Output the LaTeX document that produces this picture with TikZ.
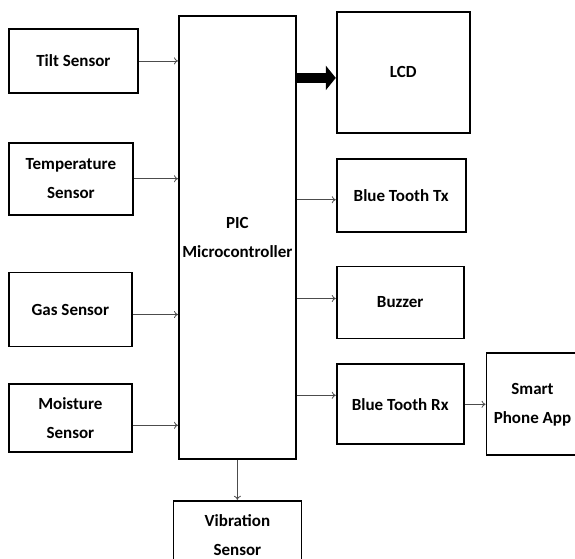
\documentclass[tikz,border=0pt]{standalone}
\usepackage{fontspec}
\setmainfont{Carlito}
\usepackage{tikz}
\usetikzlibrary{arrows.meta,positioning}

\begin{document}
\begin{tikzpicture}[
  x=1pt, y=-1pt,
  block/.style={rectangle, draw, line width=1.8pt, inner sep=0pt, align=center, font=\fontsize{17}{29}\selectfont\bfseries},
  arrow/.style={-{To[length=4pt,width=7pt]}, draw=black!70, line width=0.8pt},
  bigarrow/.style={-{Triangle[length=10pt,width=24pt]}, line width=10pt}
]
  \useasboundingbox (0,0) rectangle (575,558);

  % controller
  \node[block, minimum width=117pt, minimum height=443pt, anchor=north west] (pic) at (178,15) {PIC\\Microcontroller};

  % sensors on the left
  \node[block, minimum width=129pt, minimum height=64pt, anchor=north west] (tilt) at (8,28) {Tilt Sensor};
  \node[block, minimum width=124pt, minimum height=72pt, below=48pt of tilt.south west, anchor=north west] (temp) {Temperature\\Sensor};
  \node[block, minimum width=123pt, minimum height=74pt, below=56pt of temp.south west, anchor=north west] (gas) {Gas Sensor};
  \node[block, minimum width=123pt, minimum height=68pt, below=36pt of gas.south west, anchor=north west] (moist) {Moisture\\Sensor};

  % outputs on the right
  \node[block, minimum width=133pt, minimum height=121pt, right=39pt of pic.north east, anchor=north west, yshift=4pt] (lcd) {LCD};
  \node[block, minimum width=129pt, minimum height=73pt, below=24pt of lcd.south west, anchor=north west] (bttx) {Blue Tooth Tx};
  \node[block, minimum width=127pt, minimum height=72pt, below=33pt of bttx.south west, anchor=north west] (buzzer) {Buzzer};
  \node[block, minimum width=127pt, minimum height=80pt, below=24pt of buzzer.south west, anchor=north west] (btrx) {Blue Tooth Rx};
  \node[block, minimum width=92pt, minimum height=102pt, right=21pt of btrx] (phone) {Smart\\Phone App};
  \node[block, minimum width=128pt, minimum height=68pt, below=40pt of pic] (vib) {Vibration\\Sensor};

  \draw[arrow] (tilt.east) -- (tilt.east -| pic.west);
  \draw[arrow] (temp.east) -- (temp.east -| pic.west);
  \draw[arrow] ([yshift=-5pt]gas.east) -- ([yshift=-5pt]gas.east -| pic.west);
  \draw[arrow] ([yshift=-7pt]moist.east) -- ([yshift=-7pt]moist.east -| pic.west);

  \draw[bigarrow] ([yshift=-5.5pt]lcd.west -| pic.east) -- ([yshift=-5.5pt]lcd.west);
  \draw[arrow] ([yshift=-4.5pt]bttx.west -| pic.east) -- ([yshift=-4.5pt]bttx.west);
  \draw[arrow] ([yshift=4pt]buzzer.west -| pic.east) -- ([yshift=4pt]buzzer.west);
  \draw[arrow] ([yshift=9pt]btrx.west -| pic.east) -- ([yshift=9pt]btrx.west);
  \draw[arrow] (btrx.east) -- (btrx.east -| phone.west);
  \draw[arrow] (pic.south) -- (vib.north);
\end{tikzpicture}
\end{document}
